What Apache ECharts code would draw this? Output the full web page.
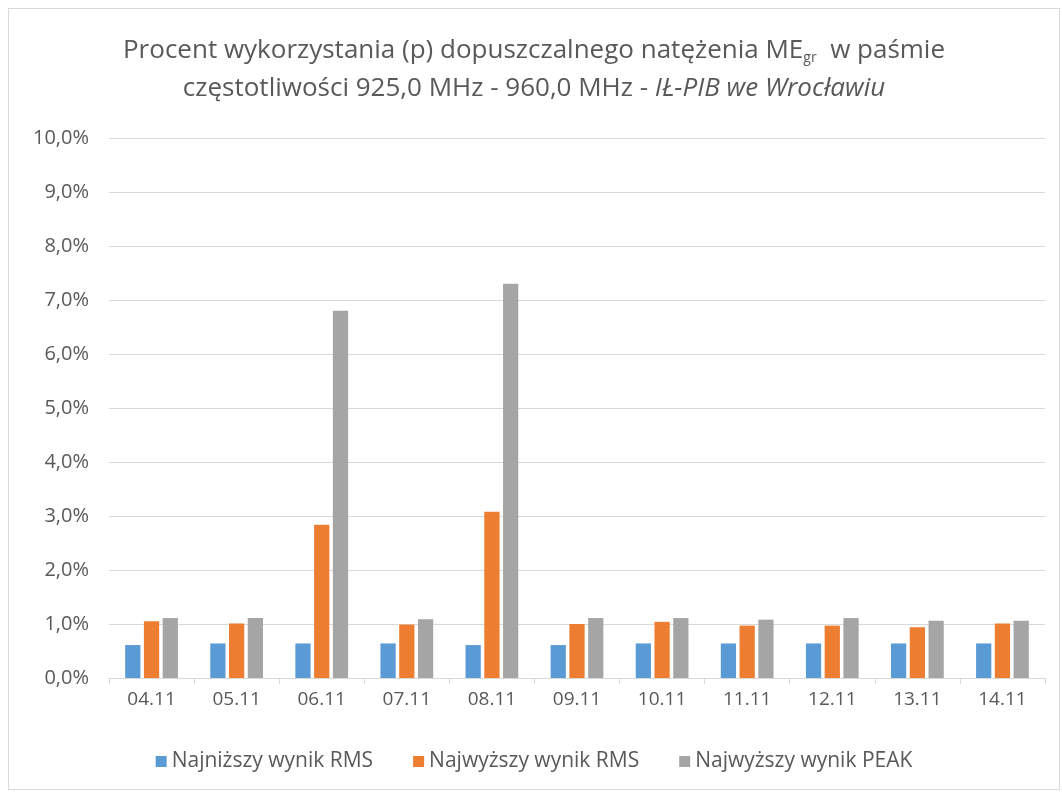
<!DOCTYPE html>
<html>
<head>
<meta charset="utf-8">
<script src="https://cdn.jsdelivr.net/npm/echarts@6/dist/echarts.min.js"></script>
<style>
	html, body { margin: 0; padding: 0; background: #fff; }
	#wrap {
		position: absolute; left: 8px; top: 8px;
		width: 1052px; height: 782px;
		border: 1px solid #d9d9d9;
		box-sizing: border-box;
	}
	#chart { width: 100%; height: 100%; }
</style>
</head>
<body>
<div id="wrap"><div id="chart"></div></div>
<script>
// dane (w %)
var days = ['04.11','05.11','06.11','07.11','08.11','09.11','10.11','11.11','12.11','13.11','14.11'];
var minRms = [0.61, 0.64, 0.64, 0.64, 0.61, 0.61, 0.64, 0.64, 0.64, 0.64, 0.64];
var maxRms = [1.05, 1.01, 2.84, 0.99, 3.08, 1.00, 1.04, 0.97, 0.97, 0.94, 1.01];
var maxPeak = [1.11, 1.11, 6.80, 1.09, 7.30, 1.11, 1.11, 1.08, 1.11, 1.06, 1.06];
var seriesNames = ['Najniższy wynik RMS', 'Najwyższy wynik RMS', 'Najwyższy wynik PEAK'];
var colors = ['#5b9bd5', '#ed7d31', '#a5a5a5'];

var font = '"Open Sans", sans-serif';
var chart = echarts.init(document.getElementById('chart'));

function bar(name, data, color) {
	return {
		name: name,
		type: 'bar',
		barGap: '23%',
		barCategoryGap: '38%',
		itemStyle: { color: color },
		data: data
	};
}

var option = {
	animation: false,
	textStyle: { fontFamily: font },
	title: {
		left: 'center',
		top: 18,
		text: '{t|Procent wykorzystania (p) dopuszczalnego natężenia ME}{s|gr}{t|  w paśmie}\n{t|częstotliwości 925,0 MHz - 960,0 MHz - }{i|IŁ-PIB we Wrocławiu}',
		textStyle: {
			fontWeight: 'normal',
			rich: {
				t: { fontFamily: font, fontSize: 26, fontWeight: 'normal', color: '#595959', lineHeight: 38 },
				s: { fontFamily: font, fontSize: 14, fontWeight: 'normal', color: '#595959', padding: [14, 0, 0, 0], lineHeight: 38 },
				i: { fontFamily: font, fontSize: 26, fontWeight: 'normal', color: '#595959', fontStyle: 'italic', lineHeight: 38 }
			}
		}
	},
	legend: {
		bottom: 12,
		left: 'center',
		itemWidth: 11,
		itemHeight: 11,
		itemGap: 40,
		icon: 'rect',
		textStyle: { fontFamily: font, fontSize: 21, color: '#595959' },
		data: seriesNames
	},
	grid: {
		left: 100,
		right: 14,
		top: 129,
		bottom: 111
	},
	xAxis: {
		type: 'category',
		data: days,
		axisLine: { lineStyle: { color: '#d9d9d9' } },
		axisTick: { show: true, length: 6, lineStyle: { color: '#d9d9d9' } },
		axisLabel: { fontFamily: font, fontSize: 19, color: '#595959', margin: 12 }
	},
	yAxis: {
		type: 'value',
		min: 0,
		max: 10,
		interval: 1,
		axisLine: { show: false },
		axisTick: { show: false },
		splitLine: { lineStyle: { color: '#d9d9d9' } },
		axisLabel: {
			fontFamily: font, fontSize: 20, color: '#595959', margin: 20,
			formatter: function (v) { return v.toFixed(1).replace('.', ',') + '%'; }
		}
	},
	series: [
		bar(seriesNames[0], minRms, colors[0]),
		bar(seriesNames[1], maxRms, colors[1]),
		bar(seriesNames[2], maxPeak, colors[2])
	]
};
chart.setOption(option);
</script>
</body>
</html>
